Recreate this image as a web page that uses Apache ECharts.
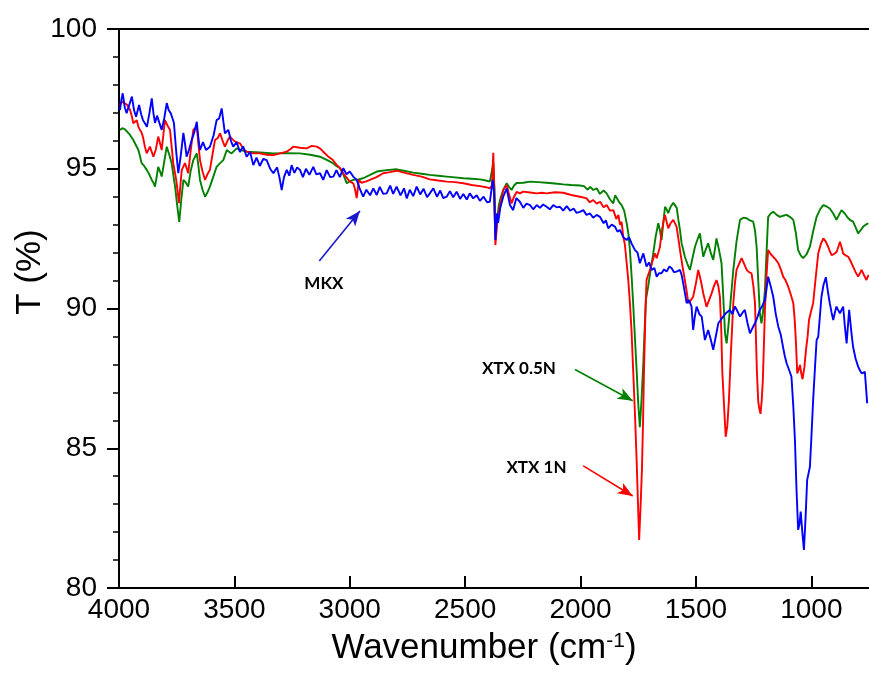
<!DOCTYPE html>
<html>
<head>
<meta charset="utf-8">
<script src="https://cdn.jsdelivr.net/npm/echarts@6/dist/echarts.min.js"></script>
<style>
  html, body { margin: 0; padding: 0; background: #fff; }
  #chart { width: 869px; height: 677px; }
</style>
</head>
<body>
<div id="chart"></div>
<script>
// FTIR transmittance spectra (wavenumber in cm-1, transmittance in %)
const tickValues = [4000, 3500, 3000, 2500, 2000, 1500, 1000];

const mkxWn = [3996,3990,3984,3975,3967,3955,3944,3935,3926,3913,3904,3896,3879,3868,3858,3851,3844,3835,3825,3815,3804,3793,3785,3776,3768,3762,3752,3743,3732,3721,3714,3707,3696,3685,3674,3663,3656,3649,3636,3623,3606,3590,3577,3566,3555,3548,3541,3526,3515,3505,3490,3476,3462,3447,3432,3418,3404,3390,3375,3360,3345,3331,3315,3305,3295,3285,3273,3262,3252,3240,3228,3216,3203,3190,3175,3158,3145,3129,3115,3100,3085,3071,3058,3043,3028,3014,3000,2985,2970,2955,2942,2928,2912,2898,2883,2870,2855,2840,2825,2812,2797,2780,2765,2753,2740,2725,2710,2695,2680,2665,2653,2638,2622,2608,2595,2580,2566,2552,2537,2522,2508,2493,2480,2465,2450,2436,2420,2405,2393,2380,2375,2369,2362,2357,2348,2335,2320,2306,2292,2278,2263,2248,2234,2219,2205,2190,2176,2162,2147,2133,2118,2104,2089,2075,2060,2045,2030,2017,2003,1988,1974,1959,1945,1930,1916,1900,1890,1880,1865,1851,1840,1829,1815,1800,1790,1779,1764,1753,1743,1728,1714,1703,1692,1680,1670,1660,1649,1638,1627,1615,1605,1595,1584,1569,1562,1555,1540,1530,1519,1512,1505,1497,1485,1475,1461,1447,1436,1425,1414,1403,1392,1382,1368,1353,1342,1331,1320,1309,1298,1288,1277,1266,1255,1244,1233,1223,1212,1201,1194,1187,1176,1165,1154,1143,1132,1122,1115,1107,1096,1086,1078,1071,1064,1057,1051,1046,1039,1032,1025,1018,1012,1006,999,992,984,977,970,963,956,947,937,928,920,912,905,898,891,884,876,869,862,855,847,841,836,827,819,808,797,790,782,775,768,763,758];
const mkxT = [97.10,97.45,97.70,97.20,96.99,97.30,97.58,97.10,96.86,97.28,96.95,96.74,96.50,97.00,97.52,97.00,96.64,96.90,96.64,96.39,96.80,97.35,97.10,96.99,96.80,96.64,95.60,94.84,95.50,96.28,95.90,95.43,95.70,96.03,96.30,96.68,96.10,95.67,95.95,95.67,95.79,96.20,96.74,96.80,97.16,96.70,96.27,96.39,96.00,95.79,95.95,95.60,95.80,95.43,95.60,95.13,95.40,95.10,95.35,95.31,95.00,94.84,95.05,94.70,94.24,94.70,94.96,94.75,95.13,94.85,95.05,94.96,94.70,95.00,94.78,95.07,94.80,94.84,94.60,94.95,94.70,94.72,94.95,94.70,95.02,94.80,94.90,94.72,94.60,94.25,94.00,94.25,94.05,94.30,94.06,94.35,94.10,94.12,94.40,94.10,94.36,94.05,94.30,93.94,94.25,94.02,94.36,94.08,94.28,93.98,94.12,94.30,94.00,94.22,93.95,94.00,94.20,93.98,94.18,93.92,94.10,93.90,94.12,93.94,94.05,93.85,94.00,93.80,93.82,94.60,94.20,92.45,93.40,93.06,93.60,94.00,94.30,93.70,93.52,93.95,93.82,93.60,93.75,93.70,93.55,93.70,93.60,93.72,93.64,93.55,93.70,93.62,93.64,93.50,93.66,93.50,93.58,93.42,93.46,93.52,93.35,93.40,93.25,93.35,93.28,93.05,93.15,92.87,93.00,92.93,92.75,92.81,92.55,92.45,92.55,92.33,92.09,92.00,91.62,91.97,91.50,91.65,91.38,91.45,91.14,91.26,91.26,91.40,91.32,91.50,91.44,91.30,91.32,91.38,91.20,90.90,90.19,90.30,90.07,89.23,89.70,90.07,89.80,89.71,88.87,89.23,88.90,88.52,89.00,89.47,89.60,89.71,89.85,89.95,89.80,90.07,89.90,89.71,89.85,89.95,89.50,89.11,89.30,89.47,89.70,89.95,90.10,90.30,90.70,91.14,90.80,90.42,89.80,89.35,89.05,88.60,88.30,88.04,87.80,87.56,86.50,85.30,83.50,82.08,82.30,82.73,82.00,81.36,82.50,83.86,84.10,84.34,85.50,86.73,87.90,88.87,88.99,89.70,90.42,90.85,91.12,90.60,90.19,89.85,89.59,89.85,90.07,89.95,89.83,89.90,90.07,89.40,88.75,89.40,89.95,89.20,88.63,88.20,87.92,87.80,87.68,87.75,87.73,87.20,86.61];

const xtx1Wn = [3996,3988,3981,3966,3952,3945,3938,3923,3916,3909,3902,3895,3888,3880,3866,3858,3851,3840,3830,3822,3815,3808,3801,3790,3779,3772,3765,3752,3740,3734,3728,3714,3700,3690,3678,3663,3656,3649,3638,3627,3617,3606,3595,3584,3572,3562,3551,3541,3530,3519,3508,3497,3476,3460,3447,3418,3389,3360,3331,3302,3273,3258,3245,3216,3187,3165,3143,3128,3115,3095,3073,3058,3042,3025,3006,2995,2985,2978,2970,2965,2960,2950,2942,2928,2913,2884,2855,2826,2797,2761,2725,2689,2653,2617,2580,2544,2508,2472,2436,2410,2393,2384,2378,2374,2369,2363,2357,2346,2335,2320,2310,2299,2288,2277,2263,2248,2219,2190,2167,2147,2111,2075,2040,2003,1975,1960,1945,1930,1915,1900,1887,1872,1858,1845,1836,1829,1822,1815,1808,1800,1793,1786,1779,1772,1764,1757,1751,1746,1740,1734,1729,1725,1719,1714,1707,1699,1688,1678,1670,1663,1656,1649,1641,1634,1627,1620,1610,1598,1591,1584,1576,1569,1558,1548,1540,1533,1522,1512,1500,1490,1479,1468,1461,1454,1443,1432,1422,1411,1403,1396,1390,1386,1378,1371,1364,1357,1348,1338,1331,1324,1313,1302,1291,1280,1270,1259,1251,1244,1240,1236,1230,1225,1220,1215,1210,1205,1201,1194,1187,1176,1165,1154,1143,1132,1122,1111,1100,1089,1078,1072,1067,1061,1055,1049,1044,1038,1030,1023,1016,1010,1001,992,981,970,959,948,938,927,920,912,901,890,883,876,869,862,851,840,830,819,808,797,790,782,772,761,752];
const xtx1T = [97.28,97.40,97.46,97.30,97.10,96.90,96.63,96.74,96.50,96.39,96.30,96.09,95.80,95.55,95.79,95.60,95.43,95.70,96.15,95.90,95.67,96.20,96.74,96.55,96.39,95.80,95.20,94.60,93.77,94.40,94.96,95.20,94.84,95.60,96.39,96.50,95.90,95.31,94.90,94.60,94.80,94.96,95.50,96.03,96.10,96.27,96.00,95.79,96.00,96.15,96.05,95.97,95.91,95.70,95.61,95.55,95.55,95.50,95.49,95.55,95.61,95.70,95.79,95.75,95.73,95.82,95.79,95.72,95.61,95.45,95.31,95.15,95.02,94.80,94.60,94.52,94.48,94.30,93.95,94.30,94.60,94.50,94.48,94.55,94.60,94.70,94.84,94.88,94.93,94.85,94.78,94.72,94.62,94.58,94.54,94.52,94.48,94.42,94.38,94.34,94.30,94.40,95.57,94.20,92.27,92.90,93.35,93.80,94.24,94.42,94.10,93.76,94.00,94.17,94.12,94.18,94.15,94.12,94.14,94.12,94.16,94.14,94.06,94.00,93.95,93.80,93.88,93.75,93.82,93.62,93.70,93.50,93.52,93.20,93.35,93.00,93.10,92.57,92.30,91.62,91.00,90.19,89.20,87.80,86.20,84.58,83.00,81.72,82.90,84.22,86.00,87.80,89.80,91.02,91.20,91.38,91.70,91.97,91.80,91.74,92.20,92.69,93.10,93.35,93.10,92.87,93.05,93.17,93.10,92.93,92.50,92.09,91.50,91.02,90.60,90.19,90.30,90.42,90.90,91.38,91.00,90.54,90.30,90.06,90.30,90.54,90.80,91.02,90.80,90.42,89.20,87.80,86.50,85.41,85.80,86.73,88.50,90.19,90.90,91.38,91.60,91.80,91.60,91.38,91.30,91.26,90.80,90.19,89.00,87.80,86.67,86.40,86.23,86.70,87.44,88.80,89.95,91.20,92.09,91.95,91.85,91.75,91.62,91.40,91.14,91.00,90.78,90.50,90.19,89.60,88.87,87.68,87.80,87.98,87.70,87.47,87.90,88.52,89.00,89.59,89.90,90.19,91.10,91.97,92.30,92.51,92.40,92.21,92.05,91.91,91.95,92.03,92.20,92.39,92.20,91.97,91.90,91.85,91.70,91.50,91.30,91.14,91.25,91.38,91.20,91.02,91.20];

const xtx05Wn = [3996,3985,3974,3956,3938,3927,3916,3909,3902,3891,3880,3869,3858,3851,3844,3837,3830,3822,3815,3804,3793,3782,3772,3765,3757,3748,3739,3730,3721,3710,3700,3690,3678,3663,3656,3649,3638,3627,3617,3606,3592,3577,3562,3548,3540,3533,3522,3512,3500,3490,3468,3447,3389,3331,3274,3216,3172,3129,3100,3073,3058,3042,3028,3013,3000,2985,2963,2942,2912,2883,2840,2797,2761,2725,2689,2653,2617,2580,2544,2508,2472,2436,2410,2393,2385,2378,2373,2367,2360,2354,2345,2335,2320,2310,2299,2288,2277,2248,2219,2183,2147,2111,2075,2040,2003,1985,1970,1958,1945,1930,1916,1900,1887,1872,1858,1850,1842,1832,1822,1811,1800,1793,1786,1779,1772,1764,1757,1750,1743,1736,1728,1722,1717,1707,1696,1685,1674,1663,1656,1649,1641,1634,1627,1620,1612,1605,1598,1591,1583,1576,1569,1562,1555,1548,1537,1526,1515,1504,1494,1483,1476,1468,1458,1447,1436,1425,1418,1411,1400,1389,1382,1374,1367,1360,1353,1345,1338,1324,1309,1295,1280,1266,1252,1244,1237,1230,1223,1216,1209,1201,1194,1187,1176,1165,1150,1136,1122,1107,1093,1078,1067,1057,1046,1035,1020,1006,991,977,962,948,934,920,905,891,880,869,855,840,829,819,808,797,786,775,764,753];
const xtx05T = [96.39,96.45,96.41,96.25,96.03,95.85,95.67,95.45,95.20,95.10,94.96,94.80,94.60,94.50,94.36,94.70,95.07,94.90,94.72,95.25,95.79,95.50,95.20,94.80,94.36,93.70,93.10,93.90,94.60,94.50,94.36,94.90,95.31,95.55,95.10,94.60,94.25,94.00,94.15,94.36,94.70,95.07,95.20,95.31,95.50,95.67,95.60,95.55,95.65,95.73,95.66,95.61,95.58,95.55,95.56,95.55,95.50,95.43,95.32,95.20,95.10,95.02,94.80,94.48,94.55,94.60,94.62,94.66,94.78,94.90,94.95,94.98,94.92,94.86,94.82,94.78,94.75,94.72,94.69,94.66,94.64,94.62,94.58,94.54,94.60,95.20,94.30,92.63,93.30,93.70,94.00,94.24,94.48,94.35,94.24,94.40,94.49,94.50,94.54,94.52,94.50,94.47,94.44,94.42,94.40,94.38,94.25,94.35,94.24,94.30,94.10,94.22,94.12,93.90,93.76,94.05,94.02,93.80,93.70,93.50,93.05,92.70,92.09,91.20,90.19,88.90,87.80,86.60,85.75,86.70,88.04,89.30,90.30,90.78,91.40,91.97,92.60,93.05,92.80,92.45,93.10,93.64,93.55,93.41,93.60,93.70,93.78,93.82,93.60,93.17,92.80,92.33,92.10,91.85,91.60,91.38,91.80,92.21,92.45,92.69,92.30,91.85,92.10,92.33,92.00,91.74,92.10,92.51,92.10,91.62,90.50,89.11,88.75,89.30,89.95,90.70,91.38,92.40,93.17,93.25,93.23,93.15,93.11,92.80,92.21,91.00,89.83,89.47,89.90,90.66,92.00,93.28,93.40,93.46,93.35,93.28,93.32,93.35,93.28,93.17,92.70,92.09,91.90,91.80,91.95,92.21,92.80,93.28,93.55,93.70,93.65,93.58,93.40,93.17,93.35,93.52,93.40,93.23,93.15,93.11,92.90,92.69,92.80,92.93,93.00,93.05];

const pairs = (wn, t) => wn.map((w, i) => [w, t[i]]);

const axisFont = "'Liberation Sans', Arial, sans-serif";
const noteFont = "Lato, 'Open Sans', sans-serif";

const chart = echarts.init(document.getElementById('chart'), null, { renderer: 'canvas' });

function arrowLine(color, from, to) {
  return {
    silent: true,
    symbol: ['none', 'arrow'],
    symbolSize: [9, 15],
    lineStyle: { color: color, width: 1.6, type: 'solid' },
    label: { show: false },
    data: [[{ coord: from }, { coord: to }]]
  };
}

function noteLabel(text, at) {
  return {
    silent: true,
    symbol: 'circle',
    symbolSize: 0,
    label: {
      show: true, position: 'inside', formatter: text,
      color: '#000', fontFamily: noteFont, fontWeight: 'bold', fontSize: 17
    },
    data: [{ coord: at }]
  };
}

chart.setOption({
  animation: false,
  backgroundColor: '#fff',
  grid: { left: 119, right: 0, top: 29, bottom: 89, containLabel: false, outerBoundsMode: 'none' },
  // axis titles placed as free text
  graphic: [
    {
      type: 'text', x: 484, y: 648, silent: true,
      style: {
        text: 'Wavenumber (cm{sup|-1})', fill: '#000', fontFamily: axisFont, fontSize: 35,
        align: 'center', verticalAlign: 'middle',
        rich: { sup: { fontFamily: axisFont, fontSize: 21, verticalAlign: 'top', padding: [0, 0, 12, 0] } }
      }
    },
    {
      type: 'text', x: 30, y: 272, rotation: Math.PI / 2, silent: true,
      style: { text: 'T (%)', fill: '#000', fontFamily: axisFont, fontSize: 35, align: 'center', verticalAlign: 'middle' }
    }
  ],
  xAxis: [{
    type: 'value', min: 750, max: 4000, inverse: true,
    axisLine: { show: true, onZero: false, lineStyle: { color: '#000', width: 2 } },
    axisTick: { show: true, inside: true, length: 12, lineStyle: { color: '#000', width: 2 }, customValues: tickValues },
    axisLabel: {
      show: true, margin: 8, color: '#000', fontFamily: axisFont, fontSize: 28,
      customValues: tickValues, formatter: v => String(v)
    },
    splitLine: { show: false }
  }, {
    type: 'value', min: 750, max: 4000, inverse: true, position: 'top',
    axisLine: { show: true, onZero: false, lineStyle: { color: '#000', width: 2 } },
    axisTick: { show: false }, axisLabel: { show: false }, splitLine: { show: false }
  }],
  yAxis: {
    type: 'value', min: 80, max: 100, interval: 5,
    axisLine: { show: true, onZero: false, lineStyle: { color: '#000', width: 2 } },
    axisTick: { show: true, inside: false, length: 12, lineStyle: { color: '#000', width: 2 } },
    minorTick: { show: true, splitNumber: 5, length: 6, lineStyle: { color: '#000', width: 1.5 } },
    axisLabel: { margin: 22, color: '#000', fontFamily: axisFont, fontSize: 28 },
    splitLine: { show: false }
  },
  series: [
    {
      name: 'XTX 0.5N', type: 'line', showSymbol: false, data: pairs(xtx05Wn, xtx05T),
      lineStyle: { color: '#008000', width: 1.9 }, itemStyle: { color: '#008000' },
      markLine: arrowLine('#008000', [2024, 87.82], [1774, 86.70]),
      markPoint: noteLabel('XTX 0.5N', [2267, 87.86])
    },
    {
      name: 'XTX 1N', type: 'line', showSymbol: false, data: pairs(xtx1Wn, xtx1T),
      lineStyle: { color: '#ff0000', width: 1.9 }, itemStyle: { color: '#ff0000' },
      markLine: arrowLine('#ff0000', [1988, 84.37], [1774, 83.29]),
      markPoint: noteLabel('XTX 1N', [2191, 84.30])
    },
    {
      name: 'MKX', type: 'line', showSymbol: false, data: pairs(mkxWn, mkxT),
      lineStyle: { color: '#0000ff', width: 1.9 }, itemStyle: { color: '#0000ff' },
      markLine: arrowLine('#1a1acc', [3132, 91.70], [2956, 93.49]),
      markPoint: noteLabel('MKX', [3112, 90.91])
    }
  ]
});
</script>
</body>
</html>
